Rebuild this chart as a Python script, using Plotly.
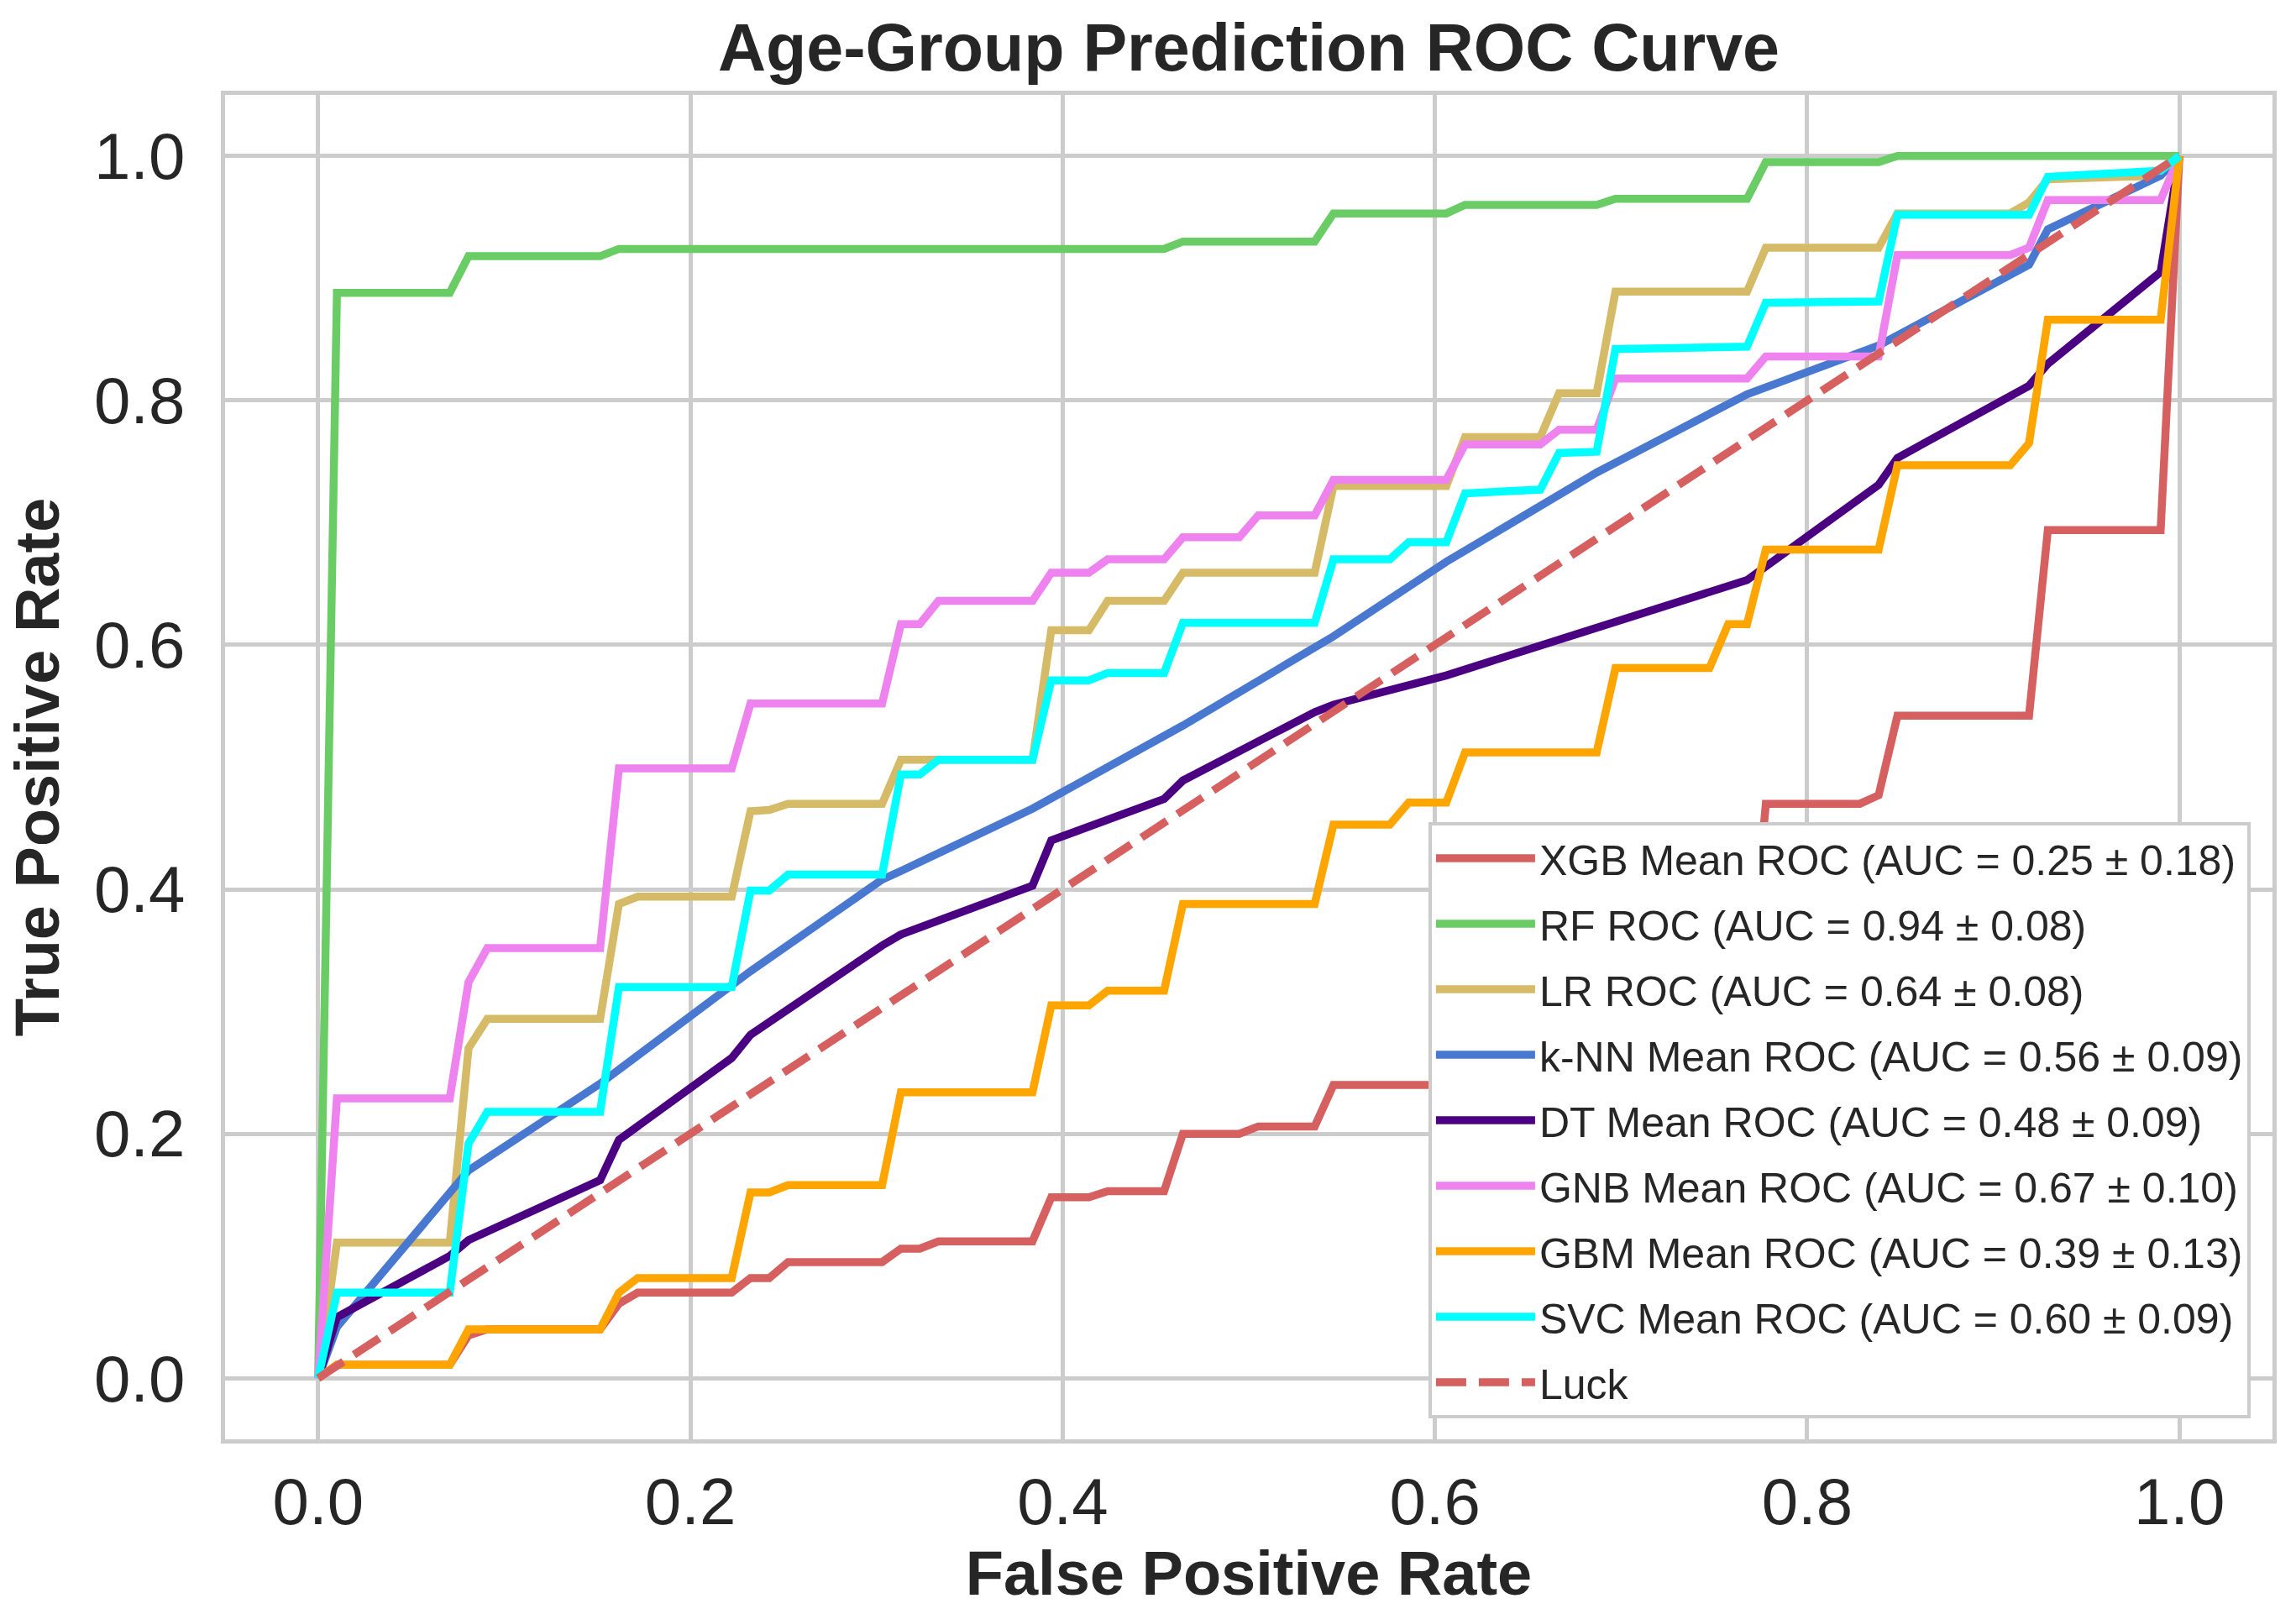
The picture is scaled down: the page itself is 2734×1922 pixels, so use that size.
import plotly.graph_objects as go

# ---------------- data ----------------
XGB_FPR = [0, 0.0101, 0.0707, 0.0808, 0.0909, 0.1515, 0.1616, 0.1717, 0.2222, 0.2323, 0.2424, 0.2525, 0.3030, 0.3131, 0.3232, 0.3333, 0.3838, 0.3939, 0.4141, 0.4242, 0.4545, 0.4646, 0.4949, 0.5051, 0.5354, 0.5455, 0.6061, 0.6162, 0.6869, 0.6970, 0.7677, 0.7778, 0.8283, 0.8384, 0.8485, 0.9192, 0.9293, 0.9899, 1.0]
XGB_TPR = [0, 0.011, 0.011, 0.035, 0.040, 0.040, 0.061, 0.070, 0.070, 0.082, 0.082, 0.095, 0.095, 0.106, 0.106, 0.112, 0.112, 0.148, 0.148, 0.153, 0.153, 0.200, 0.200, 0.206, 0.206, 0.240, 0.240, 0.260, 0.260, 0.300, 0.300, 0.470, 0.470, 0.477, 0.542, 0.542, 0.694, 0.694, 1.0]

RF_FPR = [0, 0.0101, 0.0707, 0.0808, 0.1515, 0.1616, 0.4545, 0.4646, 0.5354, 0.5455, 0.6061, 0.6162, 0.6869, 0.6970, 0.7677, 0.7778, 0.8384, 0.8485, 1.0]
RF_TPR = [0, 0.888, 0.888, 0.918, 0.918, 0.924, 0.924, 0.930, 0.930, 0.953, 0.953, 0.960, 0.960, 0.965, 0.965, 0.995, 0.995, 1.0, 1.0]

LR_FPR = [0, 0.0101, 0.0707, 0.0808, 0.0909, 0.1515, 0.1616, 0.1717, 0.2222, 0.2323, 0.2424, 0.2525, 0.3030, 0.3131, 0.3838, 0.3939, 0.4141, 0.4242, 0.4545, 0.4646, 0.5354, 0.5455, 0.6061, 0.6162, 0.6566, 0.6667, 0.6869, 0.6970, 0.7677, 0.7778, 0.8384, 0.8485, 0.9091, 0.9192, 0.9293, 0.9899, 1.0]
LR_TPR = [0, 0.111, 0.111, 0.270, 0.294, 0.294, 0.388, 0.394, 0.394, 0.464, 0.465, 0.470, 0.470, 0.506, 0.506, 0.612, 0.612, 0.636, 0.636, 0.659, 0.659, 0.730, 0.730, 0.770, 0.770, 0.806, 0.806, 0.889, 0.889, 0.925, 0.925, 0.953, 0.953, 0.962, 0.981, 0.984, 1.0]

KNN_FPR = [0, 0.0101, 0.0808, 0.1515, 0.2323, 0.3030, 0.3131, 0.3838, 0.4646, 0.5455, 0.6061, 0.6869, 0.7677, 0.8384, 0.9192, 0.9293, 0.9899, 1.0]
KNN_TPR = [0, 0.042, 0.170, 0.241, 0.333, 0.408, 0.415, 0.466, 0.534, 0.607, 0.668, 0.741, 0.805, 0.845, 0.911, 0.940, 0.984, 1.0]

DT_FPR = [0, 0.0101, 0.0707, 0.0808, 0.1515, 0.1616, 0.2222, 0.2323, 0.3030, 0.3131, 0.3838, 0.3939, 0.4545, 0.4646, 0.5354, 0.5455, 0.6061, 0.7677, 0.8384, 0.8485, 0.9192, 0.9293, 0.9899, 1.0]
DT_TPR = [0, 0.050, 0.100, 0.113, 0.162, 0.195, 0.262, 0.281, 0.354, 0.363, 0.403, 0.440, 0.474, 0.489, 0.545, 0.551, 0.575, 0.653, 0.731, 0.753, 0.812, 0.830, 0.905, 1.0]

GNB_FPR = [0, 0.0101, 0.0707, 0.0808, 0.0909, 0.1515, 0.1616, 0.2222, 0.2323, 0.3030, 0.3131, 0.3232, 0.3333, 0.3838, 0.3939, 0.4141, 0.4242, 0.4545, 0.4646, 0.4949, 0.5051, 0.5354, 0.5455, 0.6061, 0.6162, 0.6566, 0.6667, 0.6869, 0.6970, 0.7677, 0.7778, 0.8384, 0.8485, 0.9091, 0.9192, 0.9293, 0.9899, 1.0]
GNB_TPR = [0, 0.229, 0.229, 0.324, 0.352, 0.352, 0.499, 0.499, 0.552, 0.552, 0.617, 0.617, 0.636, 0.636, 0.659, 0.659, 0.670, 0.670, 0.688, 0.688, 0.706, 0.706, 0.735, 0.735, 0.764, 0.764, 0.776, 0.776, 0.818, 0.818, 0.836, 0.836, 0.919, 0.919, 0.925, 0.964, 0.964, 1.0]

GBM_FPR = [0, 0.0101, 0.0707, 0.0808, 0.1515, 0.1616, 0.1717, 0.2222, 0.2323, 0.2424, 0.2525, 0.3030, 0.3131, 0.3838, 0.3939, 0.4141, 0.4242, 0.4545, 0.4646, 0.5354, 0.5455, 0.5758, 0.5859, 0.6061, 0.6162, 0.6869, 0.6970, 0.7475, 0.7576, 0.7677, 0.7778, 0.8384, 0.8485, 0.9091, 0.9192, 0.9293, 0.9899, 1.0]
GBM_TPR = [0, 0.011, 0.011, 0.040, 0.040, 0.070, 0.082, 0.082, 0.152, 0.152, 0.158, 0.158, 0.234, 0.234, 0.305, 0.305, 0.317, 0.317, 0.388, 0.388, 0.453, 0.453, 0.471, 0.471, 0.512, 0.512, 0.581, 0.581, 0.617, 0.617, 0.678, 0.678, 0.747, 0.747, 0.765, 0.866, 0.866, 1.0]

SVC_FPR = [0, 0.0101, 0.0707, 0.0808, 0.0909, 0.1515, 0.1616, 0.2222, 0.2323, 0.2424, 0.2525, 0.3030, 0.3131, 0.3232, 0.3333, 0.3838, 0.3939, 0.4141, 0.4242, 0.4545, 0.4646, 0.5354, 0.5455, 0.5758, 0.5859, 0.6061, 0.6162, 0.6566, 0.6667, 0.6869, 0.6970, 0.7677, 0.7778, 0.8384, 0.8485, 0.9192, 0.9293, 0.9899, 1.0]
SVC_TPR = [0, 0.070, 0.070, 0.192, 0.218, 0.218, 0.320, 0.320, 0.399, 0.399, 0.412, 0.412, 0.494, 0.494, 0.506, 0.506, 0.571, 0.571, 0.577, 0.577, 0.618, 0.618, 0.670, 0.670, 0.684, 0.684, 0.724, 0.727, 0.757, 0.758, 0.842, 0.844, 0.880, 0.881, 0.952, 0.952, 0.983, 0.988, 1.0]

LUCK_FPR = [0, 1]
LUCK_TPR = [0, 1]

LABELS = [
    "XGB Mean ROC (AUC = 0.25 \u00b1 0.18)",
    "RF ROC (AUC = 0.94 \u00b1 0.08)",
    "LR ROC (AUC = 0.64 \u00b1 0.08)",
    "k-NN Mean ROC (AUC = 0.56 \u00b1 0.09)",
    "DT Mean ROC (AUC = 0.48 \u00b1 0.09)",
    "GNB Mean ROC (AUC = 0.67 \u00b1 0.10)",
    "GBM Mean ROC (AUC = 0.39 \u00b1 0.13)",
    "SVC Mean ROC (AUC = 0.60 \u00b1 0.09)",
    "Luck",
]
COLORS = ["#d65f5f", "#6acc64", "#d5bb67", "#4878d0", "#4b0082",
          "#ee82ee", "#ffa500", "#00ffff", "#d65f5f"]
TICKS = [0.0, 0.2, 0.4, 0.6, 0.8, 1.0]
TICK_TEXT = ["0.0", "0.2", "0.4", "0.6", "0.8", "1.0"]

SERIES = [
    (XGB_FPR, XGB_TPR), (RF_FPR, RF_TPR), (LR_FPR, LR_TPR),
    (KNN_FPR, KNN_TPR), (DT_FPR, DT_TPR), (GNB_FPR, GNB_TPR),
    (GBM_FPR, GBM_TPR), (SVC_FPR, SVC_TPR), (LUCK_FPR, LUCK_TPR),
]

FONT = "Liberation Sans, Arial, Helvetica, sans-serif"
TXT = "#262626"
GRID = "#cccccc"

fig = go.Figure()
for i, ((xs, ys), name, col) in enumerate(zip(SERIES, LABELS, COLORS)):
    dash = "36px,15px" if name == "Luck" else "solid"
    fig.add_trace(go.Scatter(
        x=xs, y=ys, mode="lines", name=name,
        line=dict(color=col, width=9.5, dash=dash),
        legendgroup=f"g{i}",
    ))

fig.update_layout(
    width=2734, height=1922,
    margin=dict(l=268, r=28, t=113, b=208, autoexpand=False),
    paper_bgcolor="white", plot_bgcolor="white",
    font=dict(family=FONT, color=TXT),
    title=dict(
        text="Age-Group Prediction ROC Curve",
        font=dict(size=79, weight="bold", color=TXT, family=FONT),
        x=0.5, xref="paper", xanchor="center",
        y=1 - 56 / 1922, yref="container", yanchor="middle",
    ),
    xaxis=dict(
        range=[-0.05, 1.05], tickvals=TICKS, ticktext=TICK_TEXT,
        showgrid=True, gridcolor=GRID, gridwidth=4.5, zeroline=False,
        showline=True, linecolor=GRID, linewidth=5, mirror=True,
        ticks="", tickfont=dict(size=78, color=TXT), ticklabelstandoff=2,
        title=dict(text="False Positive Rate", standoff=18,
                   font=dict(size=74, weight="bold", color=TXT)),
        automargin=False,
    ),
    yaxis=dict(
        range=[-0.05, 1.05], tickvals=TICKS, ticktext=TICK_TEXT,
        showgrid=True, gridcolor=GRID, gridwidth=4.5, zeroline=False,
        showline=True, linecolor=GRID, linewidth=5, mirror=True,
        ticks="", tickfont=dict(size=78, color=TXT), ticklabelstandoff=27,
        title=dict(text="True Positive Rate", standoff=19,
                   font=dict(size=74, weight="bold", color=TXT)),
        automargin=False,
    ),
    legend=dict(
        x=0.9893, y=0.0156, xanchor="right", yanchor="bottom",
        bgcolor="white", bordercolor=GRID, borderwidth=4,
        font=dict(size=50, color=TXT, family=FONT),
        itemwidth=118, tracegroupgap=10, traceorder="grouped",
    ),
    showlegend=True,
)

fig.write_html("out.html", config={"displayModeBar": False},
               post_script="document.body.style.margin='0';")
